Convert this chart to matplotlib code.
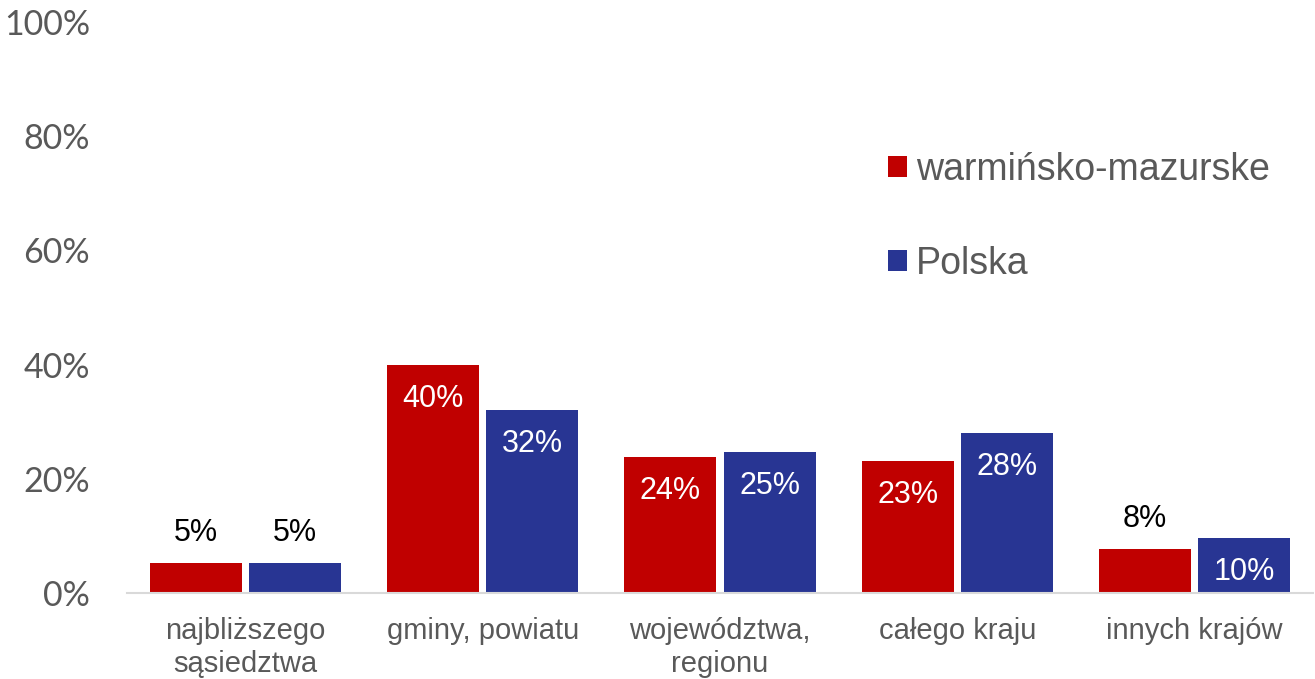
import matplotlib
matplotlib.use("Agg")
import matplotlib.pyplot as plt
import numpy as np

# data
categories = ["najbliższego\nsąsiedztwa", "gminy, powiatu", "województwa,\nregionu",
              "całego kraju", "innych krajów"]
warm = [5.2, 40.0, 23.8, 23.1, 7.7]
polska = [5.3, 32.0, 24.7, 28.0, 9.6]
warm_lbl = ["5%", "40%", "24%", "23%", "8%"]
pol_lbl = ["5%", "32%", "25%", "28%", "10%"]
series_names = ["warmińsko-mazurske", "Polska"]

red = "#c00000"
blue = "#283593"
grey = "#595959"

fig = plt.figure(figsize=(13.15, 6.79), dpi=100)
ax = fig.add_axes([127/1315, 86/679, 1186/1315, 571/679])

x = np.arange(len(categories))
w = 0.388
off = 0.209
b1 = ax.bar(x - off, warm, w, color=red, label=series_names[0])
b2 = ax.bar(x + off, polska, w, color=blue, label=series_names[1])

# value labels: inside the bar when tall enough, above otherwise
for bars, vals, lbls in [(b1, warm, warm_lbl), (b2, polska, pol_lbl)]:
    for r, v, t in zip(bars, vals, lbls):
        cx = r.get_x() + r.get_width()/2
        if v > 9:
            ax.annotate(t, (cx, v), xytext=(0, -34), textcoords="offset pixels",
                        ha="center", va="center", color="white", fontsize=22,
                        family="Liberation Sans")
        else:
            ax.annotate(t, (cx, v), xytext=(0, 30), textcoords="offset pixels",
                        ha="center", va="center", color="black", fontsize=22,
                        family="Liberation Sans")

ax.set_xlim(-0.5, len(categories) - 0.5)
ax.set_ylim(0, 100)
ax.set_yticks([0, 20, 40, 60, 80, 100])
ax.set_yticklabels(["0%", "20%", "40%", "60%", "80%", "100%"])
ax.set_xticks(x)
ax.set_xticklabels(categories, family="Liberation Sans", fontsize=21,
                   color=grey, linespacing=1.2)
for lab in ax.get_yticklabels():
    lab.set_family("Lato")
    lab.set_fontsize(24.5)
    lab.set_color(grey)

ax.tick_params(axis="both", length=0)
ax.tick_params(axis="y", pad=26.5)
ax.tick_params(axis="x", pad=17.5)
for s in ["top", "right", "left"]:
    ax.spines[s].set_visible(False)
ax.spines["bottom"].set_color("#d9d9d9")
ax.spines["bottom"].set_linewidth(1.5)

leg = ax.legend(loc="upper left", bbox_to_anchor=(869/1315, 1 - 133/679),
                bbox_transform=fig.transFigure, frameon=False, borderpad=0,
                handlelength=0.5, handleheight=0.5, handletextpad=0.25,
                labelspacing=1.55, prop={"family": "Liberation Sans", "size": 27})
for t in leg.get_texts():
    t.set_color(grey)

fig.savefig("out.png", dpi=100)
